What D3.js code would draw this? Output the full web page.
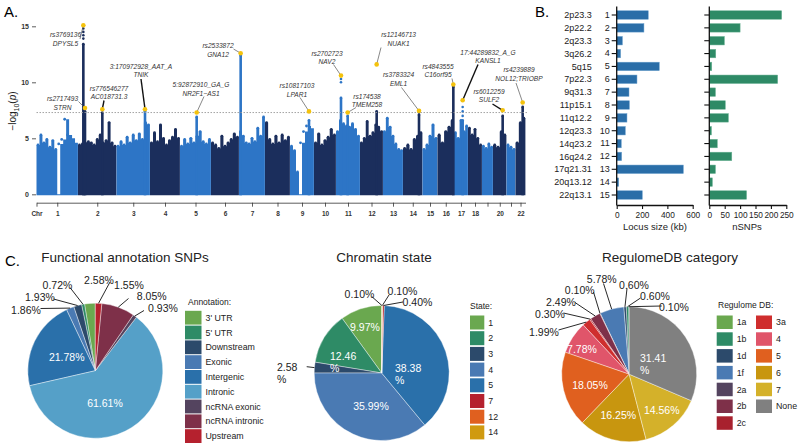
<!DOCTYPE html>
<html>
<head>
<meta charset="utf-8">
<script src="https://cdn.jsdelivr.net/npm/d3@7"></script>
<style>
  body { margin: 0; background: #fff; }
  text { font-family: "Liberation Sans", Arial, sans-serif; }
</style>
</head>
<body>
<div id="chart"></div>
<script>
// ---------- Panel A: Manhattan plot ----------
var chromosomes = ["1","2","3","4","5","6","7","8","9","10","11","12","13","14","15","16","17","18","19","20","21","22"];
var chrLabelShown = ["1","2","3","4","5","6","7","8","9","10","11","12","13","14","15","16","17","18","","20","","22"];
// plotted span of every chromosome (Mb)
var chrSpanMb = [249, 231, 201, 180, 186, 168, 156, 150, 144, 132, 144, 138, 120, 117, 90, 99, 84, 84, 66, 81, 54, 60];
// top of the dense point cloud in evenly spaced bins along each chromosome (-log10 p)
var chrBinTops = [
  [4.4, 5.3, 4.6, 4.9, 4.2, 4.8, 4.0, 0, 4.5, 4.9, 6.7, 5.3, 5.0, 4.6],
  [4.4, 4.5, 4.6, 4.7, 4.6, 4.4, 4.9, 5.3, 4.6, 4.8, 6.4, 4.6, 4.3],
  [4.3, 4.7, 4.4, 5.1, 4.6, 5.3, 4.8, 5.4, 4.9, 6.4, 6.2],
  [4.6, 5.5, 4.7, 6.2, 5.0, 4.4, 4.8, 5.1, 5.8, 5.0],
  [4.3, 4.9, 4.5, 5.0, 4.6, 5.2, 5.6, 4.7, 4.5, 4.9],
  [4.6, 4.4, 4.1, 5.2, 4.3, 4.6, 4.9, 5.4, 5.1],
  [5.6, 5.2, 4.6, 4.5, 5.0, 4.7, 5.9, 5.2, 6.9],
  [6.4, 4.9, 4.5, 5.2, 4.6, 5.3, 4.8, 5.1],
  [4.3, 3.9, 2.0, 0, 4.6, 5.6, 6.1, 5.9],
  [4.6, 5.4, 4.4, 4.8, 5.1, 5.8, 5.3],
  [5.6, 6.6, 6.3, 6.1, 6.0, 6.3, 5.8, 5.2],
  [4.6, 5.0, 6.5, 5.2, 5.5, 6.2, 6.0, 5.6],
  [5.6, 6.8, 6.0, 5.2, 4.5, 4.0, 3.9],
  [4.1, 4.4, 4.0, 4.9, 5.2, 5.5],
  [4.0, 4.4, 5.2, 6.2, 5.0],
  [5.3, 4.6, 5.6, 6.0, 6.6],
  [5.5, 5.0, 6.6, 5.6, 6.1],
  [5.9, 5.3, 5.8, 5.0, 4.4],
  [4.3, 4.1, 4.5, 4.2],
  [4.4, 4.2, 5.6, 5.3],
  [4.4, 4.2, 4.0],
  [4.6, 6.4, 6.8]
];
var leadIds = ["rs3769136","rs2717493","rs776546277","3:170972928_AAT_A","5:92872910_GA_G","rs2533872","rs10817103",
  "rs2702723","rs174538","rs12146713","rs3783324","rs4843555","17:44289832_A_G","rs6012259","rs4239889"];
var leadGenes = ["DPYSL5","STRN","AC018731.3","TNIK","NR2F1\u2212AS1","GNA12","LPAR1","NAV2","TMEM258","NUAK1","EML1",
  "C16orf95","KANSL1","SULF2","NOL12;TRIOBP"];
var leadChr = [2, 2, 2, 3, 5, 7, 9, 11, 11, 12, 14, 16, 17, 20, 22];
var leadPosMb = [32, 42, 146, 171, 100, 10, 114, 30, 70, 100, 96, 95, 52, 58, 43];
var leadLogP = [15.1, 7.7, 7.6, 7.6, 7.3, 12.6, 7.4, 10.6, 7.3, 11.6, 7.45, 9.8, 8.4, 7.5, 8.2];
// dense column of SNPs below each lead SNP
var leadColumnTop = [13.4, 7.4, 7.3, 7.4, 6.9, 12.4, 6.6, 8.6, 7.0, 7.4, 7.1, 9.6, 6.6, 7.0, 7.8];
// scattered points above the columns: chr, position (Mb), -log10 p
var loosePoints = [[2, 32, 13.9], [2, 32, 14.2], [2, 32, 14.5], [2, 32, 14.8], [11, 30, 10.3], [11, 30, 10.0],
  [17, 52, 7.0], [17, 52, 7.4], [17, 52, 7.8], [14, 96, 7.3]];
var gwsThreshold = 7.3;
var yTicksA = [0, 5, 10, 15];

// ---------- Panel B: loci ----------
var lociNames = ["2p23.3","2p22.2","2q23.3","3q26.2","5q15","7p22.3","9q31.3","11p15.1","11q12.2","12q23.3",
  "14q23.2","16q24.2","17q21.31","20q13.12","22q13.1"];
var lociIndex = d3.range(1, 16);
var locusSizeKb = [249, 215, 45, 31, 336, 160, 97, 100, 81, 68, 36, 39, 526, 16, 202];
var locusSNPs = [235, 100, 49, 21, 8, 222, 20, 52, 62, 7, 26, 73, 20, 10, 121];
var sizeTicks = [0, 200, 400, 600];
var snpTicks = [0, 50, 100, 150, 200, 250];

// ---------- Panel C: pies ----------
var annotNames = ["3' UTR","5' UTR","Downstream","Exonic","Intergenic","Intronic","ncRNA exonic","ncRNA intronic","Upstream"];
var annotPct = [2.58, 0.72, 1.93, 1.86, 21.78, 61.61, 0.93, 8.05, 1.55];
var annotColors = ["#6aa84f","#2e8b66","#2c4a6b","#4a7ab3","#2a70aa","#55a0c8","#54445f","#7e3049","#b5212e"];

var stateNames = ["1","2","3","4","5","7","12","14"];
var statePct = [9.97, 12.46, 2.58, 35.99, 38.38, 0.40, 0.10, 0.10];
var stateColors = ["#6aa84f","#2e8b66","#2c4a6b","#4a7ab3","#2a70aa","#b5212e","#e0601f","#d09a10"];

var regNames = ["1a","1b","1d","1f","2a","2b","2c","3a","4","5","6","7","None"];
var regPct = [0.10, 0.60, 0.60, 5.78, 0.10, 2.49, 0.30, 1.99, 7.78, 18.05, 16.25, 14.56, 31.41];
var regColors = ["#6aa84f","#2e8b66","#2c4a6b","#4a7ab3","#54445f","#7e3049","#a8212e","#cf2e2e","#e0556a","#e0601f","#c8960f","#d4b12a","#808080"];

var W = 798, H = 445;
var svg = d3.select("#chart").append("svg").attr("width", W).attr("height", H);

svg.append("text").attr("x", 4).attr("y", 17).attr("font-size", 15).text("A.");
svg.append("text").attr("x", 535).attr("y", 17).attr("font-size", 15).text("B.");
svg.append("text").attr("x", 5).attr("y", 266).attr("font-size", 15).text("C.");

// ===== Manhattan =====
var light = "#2d75c6", dark = "#1b2e5c";
var chrStart = [];
var acc = 0;
chrSpanMb.forEach(function(s) { chrStart.push(acc); acc += s; });
var totalMb = acc;

var x = d3.scaleLinear().domain([0, totalMb]).range([36.5, 525.5]);
var y = d3.scaleLinear().domain([0, 15]).range([194.3, 26.3]);

var gA = svg.append("g");

// point cloud, one stepped block per chromosome
var cloud = d3.area().curve(d3.curveStepAfter)
  .x(d => x(d[0])).y0(y(0) + 1).y1(d => y(d[1]));

chromosomes.forEach(function(c, ci) {
  var bins = chrBinTops[ci];
  var n = bins.length;
  var step = chrSpanMb[ci] / n;
  var col = ci % 2 === 0 ? light : dark;
  var pts = bins.map((h, i) => [chrStart[ci] + i * step, h]);
  pts.push([chrStart[ci] + chrSpanMb[ci] - 0.6, bins[n - 1]]);
  gA.append("path").attr("d", cloud(pts)).attr("fill", col);
  gA.append("g").selectAll("circle").data(bins).enter().append("circle")
    .filter(d => d > 0)
    .attr("cx", (d, i) => x(chrStart[ci] + (i + 0.5) * step))
    .attr("cy", d => y(d))
    .attr("r", 1.4)
    .attr("fill", col);
});

// columns under lead SNPs
leadChr.forEach(function(c, i) {
  var col = (c - 1) % 2 === 0 ? light : dark;
  var cx = x(chrStart[c - 1] + leadPosMb[i]);
  gA.append("rect")
    .attr("x", cx - 1.3).attr("width", 2.6)
    .attr("y", y(leadColumnTop[i])).attr("height", y(0) - y(leadColumnTop[i]) + 1)
    .attr("fill", col);
  gA.append("circle").attr("cx", cx).attr("cy", y(leadColumnTop[i])).attr("r", 1.4).attr("fill", col);
});

gA.selectAll(".loose").data(loosePoints).enter().append("circle")
  .attr("cx", d => x(chrStart[d[0] - 1] + d[1]))
  .attr("cy", d => y(d[2]))
  .attr("r", 1.3)
  .attr("fill", d => (d[0] - 1) % 2 === 0 ? light : dark);

// threshold
gA.append("line")
  .attr("x1", 36.5).attr("x2", 528)
  .attr("y1", y(gwsThreshold)).attr("y2", y(gwsThreshold))
  .attr("stroke", "#9a9a9a").attr("stroke-width", 0.9).attr("stroke-dasharray", "1.5,1.5");

// labels for lead SNPs (layout: text centre x, first line y, leader start)
var leadLabelLayout = [
  [65.5, 35, 80, 39], [62.5, 99, 78.5, 101.5], [109, 88.3, 104, 100.5], [141, 66.7, 141, 79],
  [201, 85, 204, 96.5], [218, 46, 233.5, 49], [297, 86, 300, 97.5], [327, 53.3, 333.5, 64.5],
  [367, 96.7, 356, 107.5], [398.6, 35, 381, 47.5], [398.5, 75, 401.5, 87.5], [438, 66.7, 452, 78.5],
  [488, 52.7, 478, 64.5], [489, 91.7, 492.5, 104], [519, 70, 516, 83]
];
var thickLeader = [false, false, true, true, false, false, false, false, false, false, false, false, true, true, false];

leadIds.forEach(function(id, i) {
  var L = leadLabelLayout[i];
  var px = x(chrStart[leadChr[i] - 1] + leadPosMb[i]);
  var py = y(leadLogP[i]);
  gA.append("line")
    .attr("x1", L[2]).attr("y1", L[3]).attr("x2", px).attr("y2", py)
    .attr("stroke", thickLeader[i] ? "#111" : "#555")
    .attr("stroke-width", thickLeader[i] ? 1.4 : 0.7);
  var t = gA.append("text").attr("text-anchor", "middle").attr("font-size", 6.6)
    .attr("font-style", "italic").attr("fill", "#333");
  t.append("tspan").attr("x", L[0]).attr("y", L[1]).attr("dy", "0.35em").text(id);
  t.append("tspan").attr("x", L[0]).attr("y", L[1] + 8.2).attr("dy", "0.35em").text(leadGenes[i]);
});

gA.selectAll(".lead").data(leadIds).enter().append("circle")
  .attr("cx", (d, i) => x(chrStart[leadChr[i] - 1] + leadPosMb[i]))
  .attr("cy", (d, i) => y(leadLogP[i]))
  .attr("r", 2.3)
  .attr("fill", "#f4c20d");

// y axis (ticks only)
var yAxisA = gA.append("g").attr("transform", "translate(36,0)")
  .call(d3.axisLeft(y).tickValues(yTicksA).tickSize(4).tickPadding(3));
yAxisA.select(".domain").remove();
yAxisA.selectAll("line").attr("stroke", "#333").attr("stroke-width", 0.8);
yAxisA.selectAll("text").attr("font-size", 7).attr("font-weight", "bold").attr("fill", "#333");

var yl = gA.append("text").attr("transform", "translate(16,111) rotate(-90)")
  .attr("text-anchor", "middle").attr("font-size", 10).attr("fill", "#222");
yl.append("tspan").text("\u2212log");
yl.append("tspan").attr("font-size", 7).attr("dy", 2.5).text("10");
yl.append("tspan").attr("dy", -2.5).text("(");
yl.append("tspan").attr("font-style", "italic").text("p");
yl.append("tspan").text(")");

// x axis
var chrCentres = chromosomes.map((c, i) => chrStart[i] + chrSpanMb[i] / 2);
var xTickVals = [0].concat(chrCentres);
var xTickText = ["Chr"].concat(chrLabelShown);
var xAxisA = gA.append("g").attr("transform", "translate(0,202.7)")
  .call(d3.axisBottom(x).tickValues(xTickVals).tickSize(4).tickSizeOuter(0)
    .tickFormat((d, i) => xTickText[i]));
xAxisA.select(".domain").attr("stroke", "#333").attr("stroke-width", 0.8);
xAxisA.selectAll("line").attr("stroke", "#333").attr("stroke-width", 0.8);
xAxisA.selectAll("text").attr("font-size", 6.5).attr("font-weight", "bold").attr("fill", "#333")
  .attr("dy", "0.9em");

// ===== Panel B =====
var gB = svg.append("g");
var band = d3.scaleBand().domain(lociIndex).range([8.57, 201.43]).paddingInner(0.34).paddingOuter(0.17);
var xSize = d3.scaleLinear().domain([0, 600]).range([616.7, 692.7]);
var xSnp = d3.scaleLinear().domain([0, 250]).range([709.3, 786.3]);

gB.selectAll(".bsize").data(locusSizeKb).enter().append("rect")
  .attr("x", xSize(0)).attr("y", (d, i) => band(lociIndex[i]))
  .attr("width", d => xSize(d) - xSize(0)).attr("height", band.bandwidth())
  .attr("fill", "#2a6ea8").attr("stroke", "#6a9fcc").attr("stroke-width", 0.5);
gB.selectAll(".bsnp").data(locusSNPs).enter().append("rect")
  .attr("x", xSnp(0)).attr("y", (d, i) => band(lociIndex[i]))
  .attr("width", d => xSnp(d) - xSnp(0)).attr("height", band.bandwidth())
  .attr("fill", "#2e8a66").attr("stroke", "#6db396").attr("stroke-width", 0.5);

function styleAxis(a, fs) {
  a.selectAll("line").attr("stroke", "#111").attr("stroke-width", 1.1);
  a.selectAll("text").attr("font-size", fs).attr("fill", "#222");
}
var ayL = gB.append("g").attr("transform", "translate(" + xSize(0) + ",0)")
  .call(d3.axisLeft(band).tickSize(5).tickSizeOuter(0).tickPadding(2));
ayL.select(".domain").remove();
styleAxis(ayL, 9);
var ayR = gB.append("g").attr("transform", "translate(" + xSnp(0) + ",0)")
  .call(d3.axisLeft(band).tickSize(5).tickSizeOuter(0).tickFormat(""));
ayR.select(".domain").remove();
styleAxis(ayR, 9);
[xSize(0), xSnp(0)].forEach(function(xx) {
  gB.append("line").attr("x1", xx).attr("x2", xx).attr("y1", 6.5).attr("y2", 205.5)
    .attr("stroke", "#111").attr("stroke-width", 1.3);
});

var axL = gB.append("g").attr("transform", "translate(0,205)")
  .call(d3.axisBottom(xSize).tickValues(sizeTicks).tickSize(4).tickSizeOuter(0));
axL.select(".domain").attr("stroke", "#111").attr("stroke-width", 1.3);
styleAxis(axL, 8.3);
var axR = gB.append("g").attr("transform", "translate(0,205)")
  .call(d3.axisBottom(xSnp).tickValues(snpTicks).tickSize(4).tickSizeOuter(0));
axR.select(".domain").attr("stroke", "#111").attr("stroke-width", 1.3);
styleAxis(axR, 8.3);

gB.selectAll(".lname").data(lociNames).enter().append("text")
  .attr("x", 591.7).attr("y", (d, i) => band(lociIndex[i]) + band.bandwidth() / 2)
  .attr("dy", "0.35em").attr("text-anchor", "end").attr("font-size", 9).attr("fill", "#222")
  .text(d => d);
gB.append("text").attr("x", 655).attr("y", 230).attr("text-anchor", "middle")
  .attr("font-size", 9.5).attr("fill", "#222").text("Locus size (kb)");
gB.append("text").attr("x", 747).attr("y", 230).attr("text-anchor", "middle")
  .attr("font-size", 9.5).attr("fill", "#222").text("nSNPs");

// ===== Panel C: pies =====
var pieR = 67.5;

function drawPie(cfg) {
  var g = svg.append("g");
  g.append("text").attr("x", cfg.titleX).attr("y", 262).attr("text-anchor", "middle")
    .attr("font-size", 13.5).attr("fill", "#222").text(cfg.title);

  var pie = d3.pie().sort(null).startAngle(0).endAngle(-2 * Math.PI);
  var arcs = pie(cfg.values);
  var arc = d3.arc().innerRadius(0).outerRadius(pieR);
  var pg = g.append("g").attr("transform", "translate(" + cfg.cx + "," + cfg.cy + ")");
  pg.selectAll("path").data(arcs).enter().append("path")
    .attr("d", arc)
    .attr("fill", (d, i) => cfg.colors[i])
    .attr("stroke", "#fff").attr("stroke-width", 0.4);

  arcs.forEach(function(a, i) {
    var L = cfg.labels[i];
    var inside = L[2] === "in";
    if (Array.isArray(L[2])) {
      var mid = (a.startAngle + a.endAngle) / 2;
      g.append("line")
        .attr("x1", L[2][0]).attr("y1", L[2][1])
        .attr("x2", cfg.cx + pieR * Math.sin(mid)).attr("y2", cfg.cy - pieR * Math.cos(mid))
        .attr("stroke", "#111").attr("stroke-width", 0.9);
    }
    var txt = d3.format(".2f")(cfg.values[i]) + "%";
    var t = g.append("text").attr("font-size", 10.5).attr("fill", inside ? "#fff" : "#222");
    if (L[3] === "wrap") {
      t.attr("text-anchor", "start");
      t.append("tspan").attr("x", L[0]).attr("y", L[1]).attr("dy", "0.35em").text(txt.slice(0, -1));
      t.append("tspan").attr("x", L[0]).attr("y", L[1] + 12).attr("dy", "0.35em").text("%");
    } else {
      t.attr("text-anchor", "middle").attr("x", L[0]).attr("y", L[1]).attr("dy", "0.35em").text(txt);
    }
  });

  // legend
  var lg = g.append("g");
  lg.append("text").attr("x", cfg.legX).attr("y", cfg.legTitleY).attr("dy", "0.35em")
    .attr("font-size", 8.5).attr("fill", "#222").text(cfg.legTitle);
  cfg.names.forEach(function(nm, i) {
    var colIdx = Math.floor(i / cfg.perCol);
    var row = i % cfg.perCol;
    var sx = cfg.swX[colIdx];
    var sy = cfg.swY + row * cfg.swStep;
    lg.append("rect").attr("x", sx).attr("y", sy).attr("width", cfg.swW).attr("height", cfg.swH)
      .attr("fill", cfg.colors[i]);
    lg.append("text").attr("x", sx + cfg.swW + 4).attr("y", sy + cfg.swH / 2).attr("dy", "0.35em")
      .attr("font-size", 8.8).attr("fill", "#222").text(nm);
  });
}

drawPie({
  title: "Functional annotation SNPs", titleX: 125, cx: 95.3, cy: 370.7,
  values: annotPct, colors: annotColors, names: annotNames,
  labels: [[99, 280.5, null], [57.5, 285, [70, 287.5]], [40, 297.5, [53.5, 299]], [26, 310.5, [40.5, 308.5]],
    [66.7, 357, "in"], [105, 403, "in"], [163, 308, [144, 310.5]], [151.7, 296, [128.5, 298.5]], [129, 285, [110, 282]]],
  legTitle: "Annotation:", legX: 188, legTitleY: 301.7,
  swX: [185], swY: 310.8, swW: 16.5, swH: 13.8, swStep: 14.8, perCol: 9
});

drawPie({
  title: "Chromatin state", titleX: 384, cx: 381.7, cy: 373,
  values: statePct, colors: stateColors, names: stateNames,
  labels: [[365, 327, "in"], [330, 356.7, "in", "wrap"], [277, 367, [306.7, 366.7], "wrap"], [371, 406.7, "in"],
    [395, 368, "in", "wrap"], [417.5, 302, [403, 302]], [402.5, 291.7, [389, 295]], [359.5, 294, [371.7, 296.5]]],
  legTitle: "State:", legX: 470, legTitleY: 306,
  swX: [470], swY: 315.5, swW: 14.3, swH: 14, swStep: 15.7, perCol: 8
});

drawPie({
  title: "RegulomeDB category", titleX: 670, cx: 629.2, cy: 374.2,
  values: regPct, colors: regColors, names: regNames,
  labels: [[674, 307.3, [661.7, 306]], [655, 296, [640.5, 298]], [634, 285, [627, 288.5]], [601.7, 279.3, [603.5, 283.5]],
    [579.7, 290, [593.5, 292]], [561, 302.7, [575, 302.5]], [550, 314, [563.5, 313]], [544, 332.3, [558.5, 330]],
    [582, 349.3, "in"], [590, 385, "in"], [618.3, 415, "in"], [661.7, 410, "in"], [640, 358.3, "in", "wrap"]],
  legTitle: "Regulome DB:", legX: 718, legTitleY: 305,
  swX: [716.7, 756], swY: 315.5, swW: 16, swH: 13.5, swStep: 16.8, perCol: 7
});
</script>
</body>
</html>
